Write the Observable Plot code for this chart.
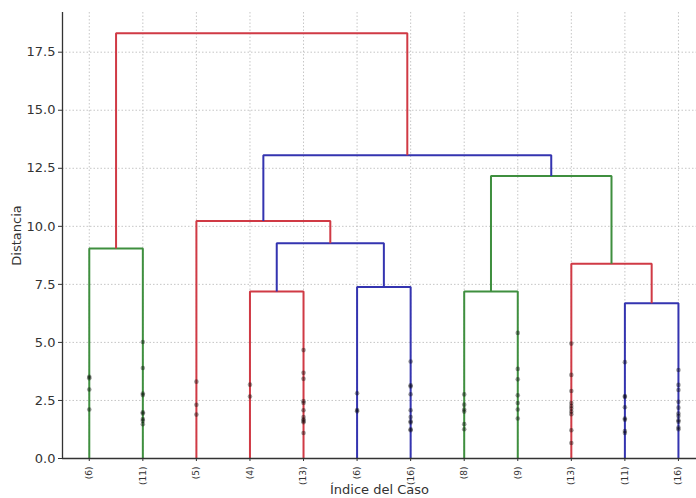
<!DOCTYPE html>
<html>
<head>
<meta charset="utf-8">
<script src="https://cdn.jsdelivr.net/npm/d3@7"></script>
<script src="https://cdn.jsdelivr.net/npm/@observablehq/plot@0.6"></script>
<style>
  html, body { margin: 0; padding: 0; background: #fff; }
  svg { display: block; }
</style>
</head>
<body>
<div id="chart"></div>
<script>
// Leaf labels (cluster sizes of truncated leaves)
const leafLabels = ["(6)","(11)","(5)","(4)","(13)","(6)","(16)","(8)","(9)","(13)","(11)","(16)"];

// Merges: node ids 0..11 are leaves; merge k creates node 12+k
const mergeLeft   = [0, 3, 5, 13, 2, 7, 10, 9, 17, 16, 12];
const mergeRight  = [1, 4, 6, 14, 15, 8, 11, 18, 19, 20, 21];
const mergeHeight = [9.04, 7.19, 7.39, 9.27, 10.23, 7.19, 6.69, 8.39, 12.17, 13.06, 18.32];
const mergeGroup  = ["g", "r", "b", "b", "r", "g", "b", "r", "g", "b", "r"];

// Contracted merge heights inside each truncated leaf
const marks0  = [3.52, 3.46, 2.97, 2.11];
const marks1  = [5.02, 3.90, 2.80, 2.73, 1.99, 1.94, 1.70, 1.63, 1.48];
const marks2  = [3.31, 2.31, 1.89];
const marks3  = [3.18, 2.67];
const marks4  = [4.67, 3.69, 3.43, 2.47, 2.39, 2.08, 1.79, 1.68, 1.62, 1.56, 1.10];
const marks5  = [2.81, 2.09, 2.03];
const marks6  = [4.18, 3.15, 3.10, 2.77, 2.08, 1.79, 1.60, 1.55, 1.26, 1.22];
const marks7  = [2.76, 2.32, 2.11, 2.02, 1.48, 1.26];
const marks8  = [5.41, 3.86, 3.41, 2.72, 2.39, 2.11, 1.72];
const marks9  = [4.95, 3.60, 2.91, 2.39, 2.26, 2.15, 2.02, 1.91, 1.22, 0.67];
const marks10 = [4.15, 2.69, 2.65, 2.21, 1.72, 1.67, 1.18, 1.10];
const marks11 = [3.81, 3.17, 2.95, 2.44, 2.19, 1.94, 1.83, 1.65, 1.58, 1.33, 1.26];
const contractionMarks = [marks0, marks1, marks2, marks3, marks4, marks5, marks6, marks7, marks8, marks9, marks10, marks11];

const yTicks = [0, 2.5, 5, 7.5, 10, 12.5, 15, 17.5];

// Build node positions (scipy-style: leaves at 5, 15, 25, ...)
const nodeX = leafLabels.map((_, i) => 5 + 10 * i);
const nodeH = leafLabels.map(() => 0);
const segs = [];
mergeLeft.forEach((l, k) => {
  const r = mergeRight[k], h = mergeHeight[k];
  const xl = nodeX[l], xr = nodeX[r];
  segs.push({id: k, g: mergeGroup[k], x: xl, y: nodeH[l]});
  segs.push({id: k, g: mergeGroup[k], x: xl, y: h});
  segs.push({id: k, g: mergeGroup[k], x: xr, y: h});
  segs.push({id: k, g: mergeGroup[k], x: xr, y: nodeH[r]});
  nodeX.push((xl + xr) / 2);
  nodeH.push(h);
});
const dots = [];
contractionMarks.forEach((arr, i) => arr.forEach(v => dots.push({x: 5 + 10 * i, y: v})));
const leafPos = leafLabels.map((_, i) => 5 + 10 * i);

const chart = Plot.plot({
  width: 696,
  height: 498,
  marginLeft: 62,
  marginRight: 0,
  marginTop: 12,
  marginBottom: 40,
  style: {fontFamily: "DejaVu Sans, sans-serif", background: "#fff"},
  x: {domain: [0, 118.37]},
  y: {domain: [0, 19.21]},
  color: {domain: ["r", "g", "b"], range: ["#d03a45", "#3f8f3f", "#3434b0"]},
  marks: [
    Plot.gridY(yTicks, {stroke: "#b8b8b8", strokeOpacity: 0.8, strokeDasharray: "1.5,2"}),
    Plot.gridX(leafPos, {stroke: "#b8b8b8", strokeOpacity: 0.8, strokeDasharray: "1.5,2"}),
    Plot.line(segs, {x: "x", y: "y", z: "id", stroke: "g", strokeWidth: 2, strokeLinejoin: "miter", strokeLinecap: "butt"}),
    Plot.dot(dots, {x: "x", y: "y", r: 2.3, fill: "black", fillOpacity: 0.38, stroke: "none"}),
    Plot.ruleX([0], {stroke: "#333", strokeWidth: 1.3}),
    Plot.ruleY([0], {stroke: "#333", strokeWidth: 1.3}),
    Plot.axisY(yTicks, {
      tickFormat: d => d.toFixed(1), fontSize: 13, tickSize: 4, tickPadding: 3,
      stroke: "#333", color: "#333",
      label: "Distancia", labelAnchor: "center", labelArrow: "none", labelOffset: 51
    }),
    Plot.axisX(leafPos, {
      tickFormat: (d, i) => leafLabels[i], tickRotate: -90, fontSize: 9, tickSize: 3, tickPadding: 5,
      stroke: "#333", color: "#333",
      label: "Índice del Caso", labelAnchor: "center", labelArrow: "none", labelOffset: 35
    })
  ]
});
chart.querySelectorAll("g[aria-label='y-axis label'] text, g[aria-label='x-axis label'] text").forEach(t => {
  t.setAttribute("font-size", "13");
  t.style.fontSize = "13px";
  t.setAttribute("fill", "#333");
});
document.getElementById("chart").appendChild(chart);
</script>
</body>
</html>
